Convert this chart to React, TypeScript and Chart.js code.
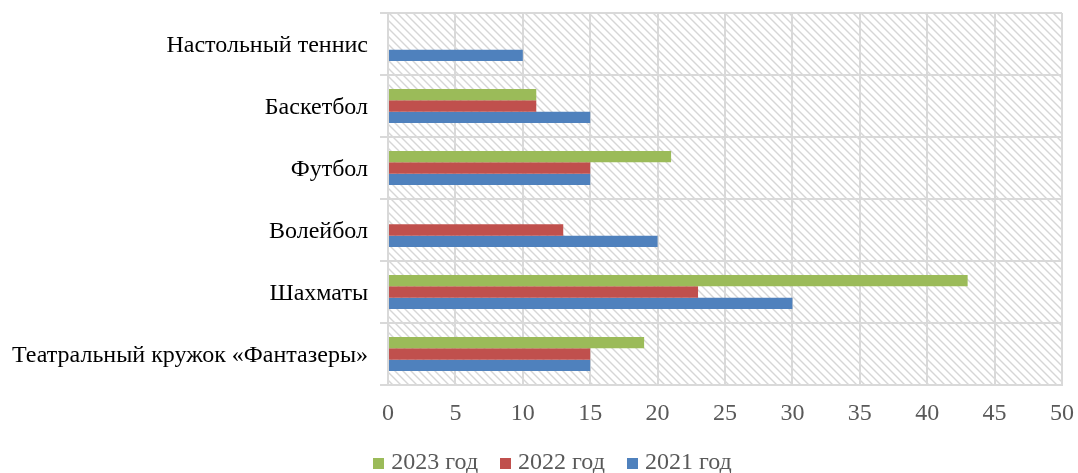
import React, { useEffect, useRef } from "react";
import { Chart, registerables } from "chart.js";

Chart.register(...registerables);

const categories = [
  "Настольный теннис",
  "Баскетбол",
  "Футбол",
  "Волейбол",
  "Шахматы",
  "Театральный кружок «Фантазеры»",
];
const values2023 = [0, 11, 21, 0, 43, 19];
const values2022 = [0, 11, 15, 13, 23, 15];
const values2021 = [10, 15, 15, 20, 30, 15];
const seriesLabels = ["2023 год", "2022 год", "2021 год"];
const seriesColors = ["#9BBB59", "#C0504D", "#4F81BD"];
const xTicks = [0, 5, 10, 15, 20, 25, 30, 35, 40, 45, 50];

const FONT = "'Liberation Serif', 'Times New Roman', serif";
const GRID = "#d9d9d9";

function makePattern(): CanvasPattern | string {
  const c = document.createElement("canvas");
  c.width = 8;
  c.height = 8;
  const g = c.getContext("2d");
  if (!g) return "#fff";
  g.fillStyle = "#ffffff";
  g.fillRect(0, 0, 8, 8);
  g.strokeStyle = "#d6d6d6";
  g.lineWidth = 1.4;
  g.beginPath();
  g.moveTo(-2, -2);
  g.lineTo(10, 10);
  g.moveTo(-2, 6);
  g.lineTo(2, 10);
  g.moveTo(6, -2);
  g.lineTo(10, 2);
  g.stroke();
  const p = g.createPattern(c, "repeat");
  return p || "#fff";
}

function makeSquare(color: string): HTMLCanvasElement {
  const c = document.createElement("canvas");
  c.width = 11;
  c.height = 11;
  const g = c.getContext("2d");
  if (g) {
    g.fillStyle = color;
    g.fillRect(0, 0, 11, 11);
  }
  return c;
}

const hatchPlugin = {
  id: "hatchBg",
  afterLayout(chart: any) {
    const lg = chart.legend;
    if (lg) {
      lg.left += 48;
      lg.width = lg.right - lg.left;
    }
  },
  beforeDraw(chart: any) {
    const { ctx, chartArea } = chart;
    if (!chartArea) return;
    ctx.save();
    ctx.fillStyle = makePattern();
    ctx.fillRect(
      chartArea.left,
      chartArea.top,
      chartArea.right - chartArea.left,
      chartArea.bottom - chartArea.top
    );
    ctx.restore();
  },
};

export default function App() {
  const ref = useRef<HTMLCanvasElement | null>(null);

  useEffect(() => {
    if (!ref.current) return;
    const squares = seriesColors.map((c) => makeSquare(c));
    const chart = new Chart(ref.current, {
      type: "bar",
      data: {
        labels: categories,
        datasets: [
          { label: seriesLabels[0], data: values2023, backgroundColor: seriesColors[0] },
          { label: seriesLabels[1], data: values2022, backgroundColor: seriesColors[1] },
          { label: seriesLabels[2], data: values2021, backgroundColor: seriesColors[2] },
        ],
      },
      options: {
        indexAxis: "y",
        animation: false,
        responsive: true,
        maintainAspectRatio: false,
        datasets: {
          bar: { categoryPercentage: 0.55, barPercentage: 1, borderWidth: 0 },
        },
        layout: { padding: { top: 13, right: 16, left: 0, bottom: -12 } },
        plugins: {
          tooltip: { enabled: false },
          legend: {
            position: "bottom",
            labels: {
              usePointStyle: true,
              boxWidth: 1,
              boxHeight: 11,
              padding: 27,
              color: "#595959",
              font: { family: FONT, size: 24 },
              generateLabels: (ch: any) =>
                ch.data.datasets.map((ds: any, i: number) => ({
                  text: ds.label,
                  fillStyle: ds.backgroundColor,
                  strokeStyle: ds.backgroundColor,
                  lineWidth: 0,
                  pointStyle: squares[i],
                  hidden: false,
                  datasetIndex: i,
                  fontColor: "#595959",
                })),
            },
          },
        },
        scales: {
          x: {
            min: 0,
            max: 50,
            afterBuildTicks: (scale: any) => {
              scale.ticks = xTicks.map((v) => ({ value: v }));
            },
            afterFit: (scale: any) => {
              scale.height = 39;
              scale.paddingLeft = 0;
              scale.paddingRight = 0;
            },
            grid: { color: GRID, lineWidth: 2, drawTicks: false },
            border: { display: true, color: GRID, width: 2 },
            ticks: {
              padding: 14,
              color: "#595959",
              font: { family: FONT, size: 24 },
            },
          },
          y: {
            afterFit: (scale: any) => {
              scale.width = 388;
              scale.paddingTop = 0;
              scale.paddingBottom = 0;
            },
            grid: { color: GRID, lineWidth: 2, drawTicks: true, tickLength: 8, offset: true },
            border: { display: true, color: GRID, width: 2 },
            ticks: {
              padding: 12,
              labelOffset: 2,
              color: "#000000",
              font: { family: FONT, size: 24 },
            },
          },
        },
      },
      plugins: [hatchPlugin],
    });
    return () => chart.destroy();
  }, []);

  return (
    <div
      style={{
        position: "fixed",
        left: 0,
        top: 0,
        width: 1078,
        height: 473,
        overflow: "hidden",
        background: "#fff",
      }}
    >
      <canvas ref={ref} />
    </div>
  );
}
